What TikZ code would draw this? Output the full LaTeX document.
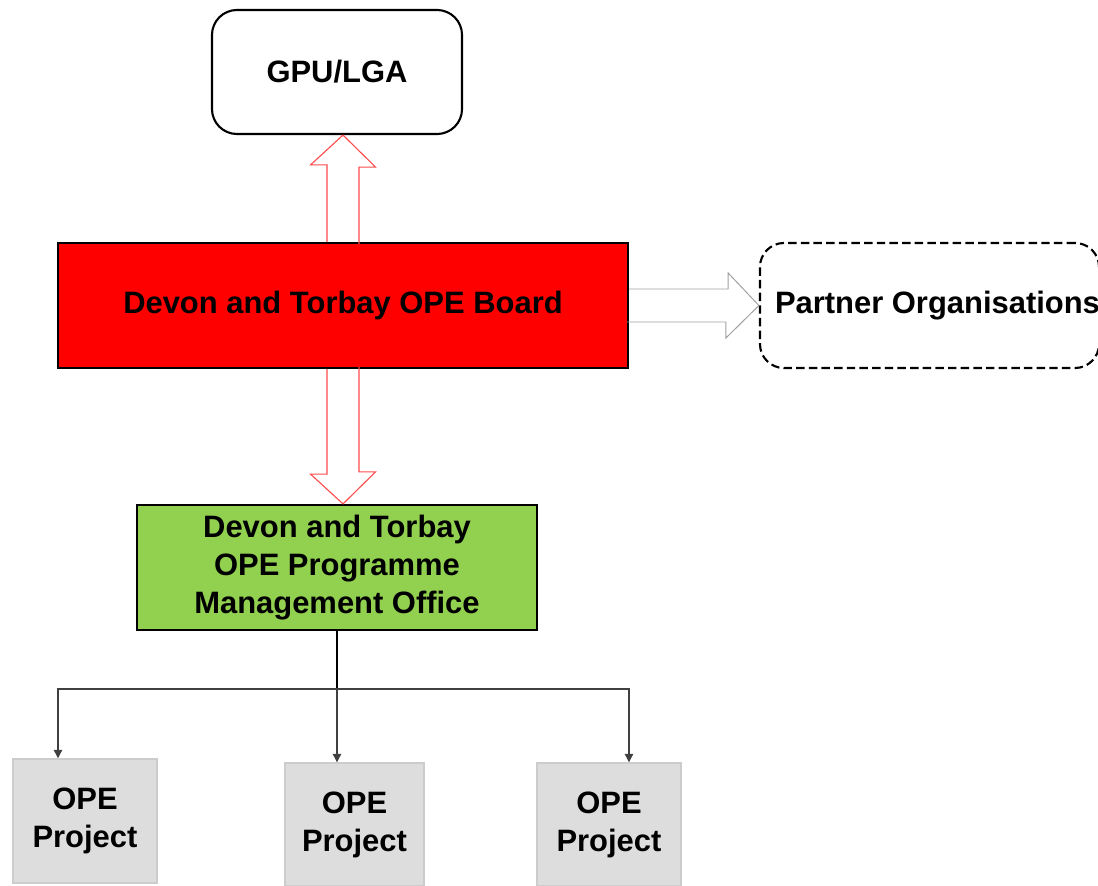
\documentclass[tikz,border=0pt]{standalone}
\usepackage{fontspec}
\setmainfont{Liberation Sans}
\usetikzlibrary{calc,arrows.meta}
\definecolor{pmogreen}{RGB}{146,208,80}
\definecolor{projgray}{RGB}{221,221,221}

\begin{document}
\begin{tikzpicture}[x=0.025cm,y=-0.025cm,
  every node/.style={font=\bfseries\fontsize{22}{27}\selectfont, align=center, inner sep=1pt},
  box/.style={draw, line width=1.5pt, minimum height=3.125cm},
  proj/.style={draw=gray!40, fill=projgray, line width=1pt, minimum width=3.6cm, minimum height=3.1cm},
  redarrow/.style={draw=red!70, line width=0.8pt},
  greyarrow/.style={draw=gray!75, line width=0.7pt},
  tree/.style={draw=black!75, line width=0.9pt, -{Triangle[length=6pt,width=6pt]}}]
\useasboundingbox (0,0) rectangle (1098,886);
% boxes
\node[box, rounded corners=0.625cm, minimum width=6.25cm, minimum height=3.1cm] (gpu) at (337,72) {GPU/LGA};
\node[box, fill=red, minimum width=14.25cm] (board) at (343,305.5) {Devon and Torbay OPE Board};
\node[box, dash pattern=on 6pt off 3pt, rounded corners=0.6cm, minimum width=8.475cm] (partner) at (929.5,305.5) {\hspace*{0.2cm}Partner Organisations\hspace*{-0.2cm}};
\node[box, fill=pmogreen, minimum width=10cm] (pmo) at (337,567.5) {Devon and Torbay\\OPE Programme\\Management Office};
\node[proj] (proj1) at (85,821) {OPE\\Project};
\node[proj, minimum width=3.475cm, minimum height=3.075cm] (proj2) at (354.5,824.5) {OPE\\Project};
\node[proj, minimum height=3.075cm] (proj3) at (609,824.5) {OPE\\Project};
% block arrows
\draw[redarrow] ($(board.north)+(-16,0)$) -- ++(0,-77) -- ++(-16.5,0) -- (board.north |- gpu.south) -- ++(32.5,32) -- ++(-16.5,0) -- ++(0,77);
\draw[redarrow] ($(board.south)+(-16,0)$) -- ++(0,105) -- ++(-16.5,0) -- (board.south |- pmo.north) -- ++(32.5,-32) -- ++(-16.5,0) -- ++(0,-105);
\draw[greyarrow] ($(board.east)+(0,-16.5)$) -- ++(99,0) -- ++(0,-16) -- (partner.west) -- ++(-33,32.5) -- ++(0,-16) -- ++(-99,0);
% projects
\coordinate (bus) at ($(pmo.south)+(0,58)$);
\draw[line width=1.2pt] (pmo.south) -- (bus);
\draw[tree] (bus) -| ([xshift=-0.675cm]proj1.north);
\draw[tree] (bus) -- (bus |- proj2.north);
\draw[tree] (bus) -| ([xshift=0.5cm]proj3.north);
\end{tikzpicture}
\end{document}
